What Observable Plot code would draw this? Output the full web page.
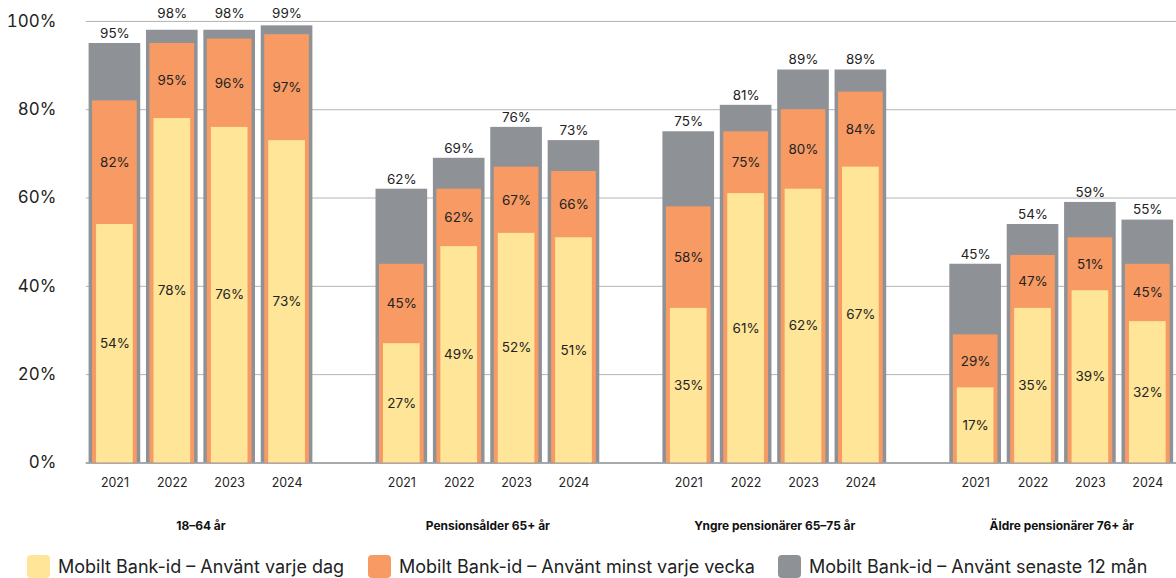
<!DOCTYPE html>
<html>
<head>
<meta charset="utf-8">
<script src="https://cdn.jsdelivr.net/npm/d3@7"></script>
<script src="https://cdn.jsdelivr.net/npm/@observablehq/plot@0.6"></script>
<style>
  html, body { margin: 0; padding: 0; background: #fff; overflow: hidden; width: 1176px; height: 578px; }
  #chart { position: absolute; left: 0; top: 0; }
  .legend-item { position: absolute; top: 555px; display: flex; align-items: center; font-family: Inter, Lato, sans-serif; font-size: 18px; color: #222; white-space: nowrap; }
  .legend-item .sw { width: 23px; height: 23px; border-radius: 4px; margin-right: 8px; }
</style>
</head>
<body>
<div id="chart"></div>
<div id="legend"></div>
<script>
const groups = ["18–64 år", "Pensionsålder 65+ år", "Yngre pensionärer 65–75 år", "Äldre pensionärer 76+ år"];
const years = ["2021", "2022", "2023", "2024"];
// Mobilt Bank-id – Använt senaste 12 mån
const senaste12 = [[95, 98, 98, 99], [62, 69, 76, 73], [75, 81, 89, 89], [45, 54, 59, 55]];
// Mobilt Bank-id – Använt minst varje vecka
const minstVecka = [[82, 95, 96, 97], [45, 62, 67, 66], [58, 75, 80, 84], [29, 47, 51, 45]];
// Mobilt Bank-id – Använt varje dag
const varjeDag = [[54, 78, 76, 73], [27, 49, 52, 51], [35, 61, 62, 67], [17, 35, 39, 32]];
const seriesNames = ["Mobilt Bank-id – Använt varje dag", "Mobilt Bank-id – Använt minst varje vecka", "Mobilt Bank-id – Använt senaste 12 mån"];
const seriesColors = ["#FEE597", "#F79A63", "#8E9196"];
const yTicks = [0, 20, 40, 60, 80, 100];

const rows = [];
const domain = [];
groups.forEach((g, gi) => {
  years.forEach((y, yi) => {
    const key = g + "|" + y;
    domain.push(key);
    rows.push({key, group: g, year: y, dag: varjeDag[gi][yi], vecka: minstVecka[gi][yi], m12: senaste12[gi][yi]});
  });
  if (gi < groups.length - 1) domain.push("spacer" + gi);
});
// labels of bars that reach the top gridline are lifted above it
const nearTop = rows.filter(d => d.m12 >= 97);
const belowTop = rows.filter(d => d.m12 < 97);

const W = 1180, H = 545, ML = 86, MR = 0, MT = 21, MB = 81;
const halfStep = (W - ML - MR) / domain.length / 2;
const font = "Inter, Lato, sans-serif";

const chart = Plot.plot({
  width: W,
  height: H,
  marginLeft: ML,
  marginRight: MR,
  marginTop: MT,
  marginBottom: MB,
  style: {fontFamily: font, color: "#222", background: "#fff", overflow: "visible"},
  x: {domain, paddingInner: 0.1, paddingOuter: 0.05, round: false, axis: null},
  y: {domain: [0, 100], axis: null},
  marks: [
    Plot.gridY(yTicks.filter(d => d > 0), {stroke: "#b3b3b3", strokeOpacity: 1, strokeWidth: 1}),
    Plot.ruleY([0], {stroke: "#8a8d92", strokeWidth: 1.5}),
    Plot.axisY(yTicks, {tickSize: 0, tickPadding: 30, tickFormat: d => d + "%", fontSize: 17, fill: "#222", label: null}),
    Plot.axisX({tickSize: 0, tickPadding: 15, tickFormat: k => k.startsWith("spacer") ? "" : k.split("|")[1], fontSize: 12.5, fill: "#222", label: null}),
    Plot.barY(rows, {x: "key", y: "m12", fill: seriesColors[2]}),
    Plot.barY(rows, {x: "key", y: "vecka", fill: seriesColors[1], insetLeft: 3.5, insetRight: 3.5}),
    Plot.barY(rows, {x: "key", y: "dag", fill: seriesColors[0], insetLeft: 7.5, insetRight: 7.5}),
    Plot.text(belowTop, {x: "key", y: "m12", text: d => d.m12 + "%", dy: -10, fontSize: 13.5, fill: "#222"}),
    Plot.text(nearTop, {x: "key", y: 100, text: d => d.m12 + "%", dy: -8, fontSize: 13.5, fill: "#222"}),
    Plot.text(rows, {x: "key", y: d => (d.vecka + d.dag) / 2, text: d => d.vecka + "%", fontSize: 13.5, fill: "#222"}),
    Plot.text(rows, {x: "key", y: d => d.dag / 2, text: d => d.dag + "%", fontSize: 13.5, fill: "#222"}),
    Plot.text(groups, {x: g => g + "|2022", y: 0, dx: halfStep, dy: 63, text: d => d, fontSize: 12, fontWeight: "bold", fill: "#111"})
  ]
});
document.getElementById("chart").appendChild(chart);

const legend = document.getElementById("legend");
const legendLeft = [27, 368, 778];
seriesNames.forEach((name, i) => {
  const item = document.createElement("div");
  item.className = "legend-item";
  item.style.left = legendLeft[i] + "px";
  const sw = document.createElement("div");
  sw.className = "sw";
  sw.style.background = seriesColors[i];
  const label = document.createElement("span");
  label.textContent = name;
  item.appendChild(sw);
  item.appendChild(label);
  legend.appendChild(item);
});
</script>
</body>
</html>
